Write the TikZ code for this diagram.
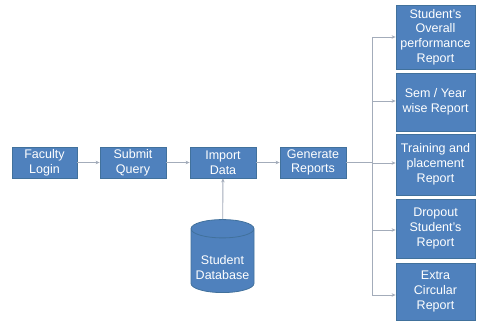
\documentclass[tikz,border=0pt]{standalone}
\usepackage{fontspec}
\setmainfont{Liberation Sans}
\usetikzlibrary{shapes.geometric,arrows.meta}
\definecolor{boxfill}{HTML}{4F81BD}
\definecolor{boxline}{HTML}{41719C}
\definecolor{conn}{HTML}{A3ACBA}
\begin{document}
\begin{tikzpicture}[x=1pt,y=-1pt,
  txt/.style={text=white,align=center,font=\fontsize{12.5}{14.8}\selectfont},
  box/.style={draw=boxline,line width=0.8pt,fill=boxfill,txt,inner sep=1pt},
  conline/.style={draw=conn,line width=0.9pt},
  arr/.style={conline,-{Stealth[length=4pt,width=3.5pt]}}]
\useasboundingbox[fill=white] (0,0) rectangle (477,322);
\node[box,minimum width=65pt,minimum height=31pt] (fac) at (44.5,162.5) {Faculty\\Login};
\node[box,minimum width=66pt,minimum height=31pt] (sub) at (133,162.5) {Submit\\Query};
\node[box,minimum width=66pt,minimum height=31pt] (imp) at (223,162.5) {Import\\Data};
\node[box,minimum width=66pt,minimum height=31pt] (gen) at (313,162.5) {Generate\\Reports};
\node[box,minimum width=79pt,minimum height=64pt] (r1) at (435.5,37) {Student's\\Overall\\performance\\Report};
\node[box,minimum width=79pt,minimum height=58pt] (r2) at (435.5,102) {Sem / Year\\wise Report};
\node[box,minimum width=79pt,minimum height=61pt] (r3) at (435.5,164.5) {Training and\\placement\\Report};
\node[box,minimum width=79pt,minimum height=59pt] (r4) at (435.5,228.5) {Dropout\\Student's\\Report};
\node[box,minimum width=79pt,minimum height=57pt] (r5) at (435.5,291.5) {Extra\\Circular\\Report};
\node[box,cylinder,shape border rotate=90,aspect=0.33,minimum width=63pt,minimum height=73pt]
  (db) at (222.5,262) {\rule{0pt}{20pt}Student\\Database};
\draw[arr] (fac) -- (sub);
\draw[arr] (sub) -- (imp);
\draw[arr] (imp) -- (gen);
\draw[arr] (db) -- (imp);
\coordinate (bt) at (372,37);
\coordinate (bb) at (372,295);
\draw[conline] (bt) -- (bb);
\draw[conline] (gen.east) -- (gen.east -| bt);
\draw[arr] (bt) -- (bt -| r1.west);
\draw[arr] (372,101) -- (r2.west |- 0,101);
\draw[arr] (372,163) -- (r3.west |- 0,163);
\draw[arr] (372,230) -- (r4.west |- 0,230);
\draw[arr] (bb) -- (bb -| r5.west);
\end{tikzpicture}
\end{document}
